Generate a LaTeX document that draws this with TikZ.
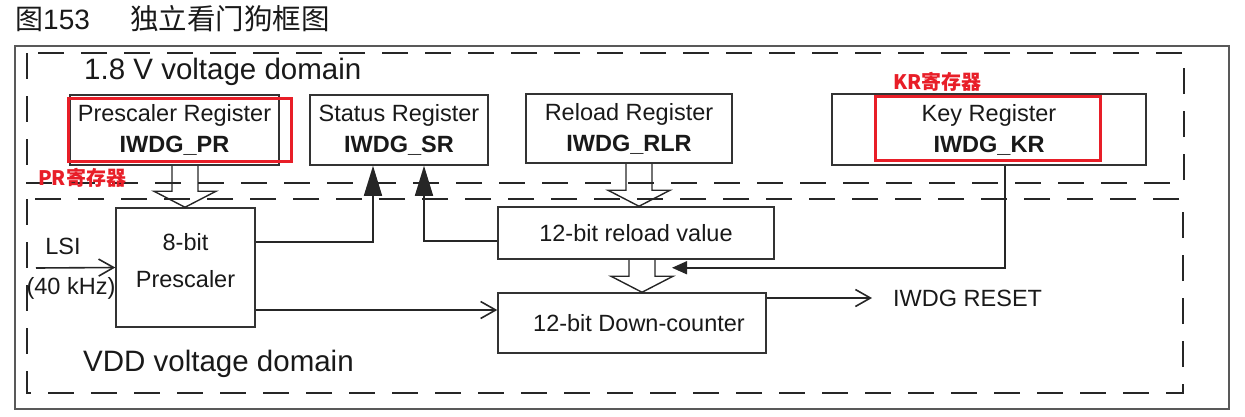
\documentclass[tikz,border=0pt]{standalone}
\usepackage{fontspec}
\setmainfont{Liberation Sans}
\newfontfamily\cjk{Noto Sans CJK SC}
\usepackage{xcolor}
\usetikzlibrary{arrows.meta,calc}

\definecolor{markred}{RGB}{232,30,40}

\newcommand{\hollowarrow}[3]{%
    \draw[hollow] (#3-\stem,0 |- #1.south) -- ($(#3,0 |- #2.north)+(-\stem,-\headh)$)
        -- ++(\stem-\headw,0) -- (#3,0 |- #2.north) -- ++(\headw,-\headh)
        -- ++(\stem-\headw,0) -- (#3+\stem,0 |- #1.south);}

\begin{document}
\begin{tikzpicture}[x=1pt, y=-1pt,
        reg/.style={draw=black!80, line width=1.5pt, align=center, text=black!90,
            font=\fontsize{23.5}{31}\selectfont, inner sep=0pt},
        txt/.style={text=black!90, font=\fontsize{23.5}{28}\selectfont, inner sep=0pt},
        domaintxt/.style={text=black!90, font=\fontsize{29.5}{34}\selectfont, inner sep=0pt},
        domainbox/.style={black!85, line width=1.8pt, dash pattern=on 26pt off 17pt},
        marktxt/.style={text=markred, font=\cjk\bfseries\fontsize{20}{20}\selectfont, inner sep=0pt},
        markbox/.style={draw=markred, line width=3pt},
        wire/.style={black!85, line width=1.6pt},
        solidtip/.style={wire, -{Triangle[length=30pt,width=18pt]}},
        smalltip/.style={wire, -{Triangle[length=15pt,width=13pt]}},
        opentip/.style={wire, -{Straight Barb[length=15pt,width=17pt]}},
        hollow/.style={black!85, line width=1.4pt, line join=miter}]
        \pgfmathsetmacro{\stem}{13}
        \pgfmathsetmacro{\headw}{31}
        \pgfmathsetmacro{\headh}{16}

        \useasboundingbox (0,0) rectangle (1245,416);

        \node[anchor=west, inner sep=0pt, text=black!90, font=\fontsize{28}{30}\selectfont] (fignum) at (15,19) {{\cjk 图}153};
        \node[anchor=west, inner sep=0pt, text=black!90, font=\cjk\fontsize{28.5}{30}\selectfont] (figtitle) at (130,19) {独立看门狗框图};

        \draw[black!65, line width=2.5pt] (15,46) rectangle (1229,409);
        \draw[domainbox] (27,53) rectangle (1184,183);
        \draw[domainbox] (27,199) rectangle (1183,393);

        \node[domaintxt, anchor=base west] (lowdomain) at (84,79) {1.8 V voltage domain};
        \node[domaintxt, anchor=base west] (vdddomain) at (83,371) {VDD voltage domain};

        \node[reg, minimum width=209pt, minimum height=70pt] (prreg) at (174.5,130) {Prescaler Register\\\textbf{IWDG\_PR}};
        \node[reg, minimum width=178pt, minimum height=70pt] (srreg) at (399,130) {Status Register\\\textbf{IWDG\_SR}};
        \node[reg, minimum width=206pt, minimum height=69pt] (rlrreg) at (629,128.5) {Reload Register\\\textbf{IWDG\_RLR}};
        \node[reg, minimum width=314pt, minimum height=71pt] (krreg) at (989,129.5) {Key Register\\\textbf{IWDG\_KR}};

        \node[reg, minimum width=139pt, minimum height=119pt, text depth=15pt,
            font=\fontsize{23.5}{37}\selectfont] (presc) at (185.5,267.5) {8-bit\\Prescaler};
        \node[reg, minimum width=276pt, minimum height=52pt] (reload) at (636,233) {12-bit reload value};
        \node[reg, minimum width=268pt, minimum height=60pt] (counter) at (632,323) {\hspace*{14pt}12-bit Down-counter};

        \node[txt] (lsi) at (63,246) {LSI};
        \node[txt] (lsifreq) at (71,288) {(40 kHz)};
        \node[txt, anchor=west] (reset) at (893,298) {IWDG RESET};
        \coordinate (lsiin) at (36,268);

        \draw[markbox] (68,98) rectangle (291,161);
        \draw[markbox] (875,96) rectangle (1100,160);
        \node[marktxt, anchor=west] (prnote) at (38,178) {PR寄存器};
        \node[marktxt, anchor=west] (krnote) at (893,82) {KR寄存器};

        \draw[opentip] (lsiin) -- (presc.west);
        \draw[solidtip] ([yshift=25.5pt]presc.east) -| ([xshift=-26pt]srreg.south);
        \draw[solidtip] ([yshift=-8pt]reload.west) -| ([xshift=25pt]srreg.south);
        \draw[opentip] ([yshift=-42.5pt]presc.east) -- ([yshift=13pt]counter.west);
        \draw[opentip] ([yshift=25pt]counter.east) -- ([xshift=-21pt]reset.west);
        \draw[smalltip] ([xshift=16pt]krreg.south) |- ([xshift=36pt,yshift=-8pt]reload.south);

        \hollowarrow{prreg}{presc}{185}
        \hollowarrow{rlrreg}{reload}{639}
        \hollowarrow{reload}{counter}{642}
    \end{tikzpicture}
\end{document}
